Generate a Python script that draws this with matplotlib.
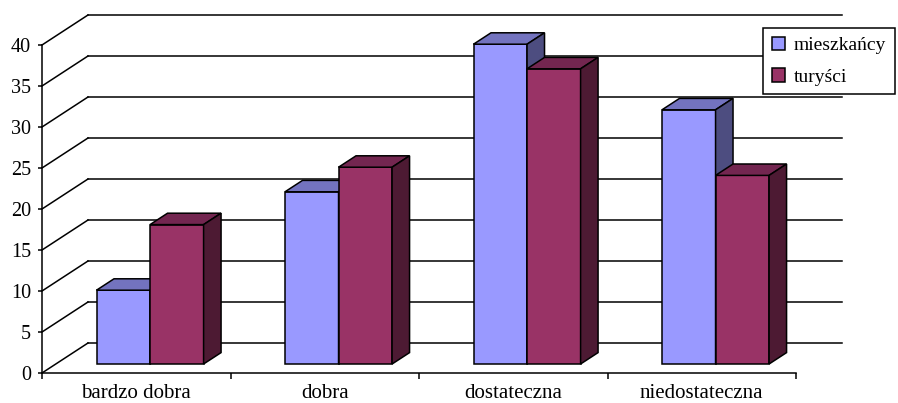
import matplotlib
matplotlib.use("Agg")
import matplotlib.pyplot as plt
from matplotlib.patches import Polygon, Patch

categories = ["bardzo dobra", "dobra", "dostateczna", "niedostateczna"]
series_names = ["mieszkańcy", "turyści"]
mieszkancy = [9, 21, 39, 31]
turysci = [17, 24, 36, 23]
y_ticks = [0, 5, 10, 15, 20, 25, 30, 35, 40]

front_colors = ["#9999FF", "#993366"]
top_colors = ["#7373BF", "#732650"]
side_colors = ["#4D4D80", "#4D1A33"]

plt.rcParams['font.family'] = ['Liberation Serif', 'DejaVu Serif']

W, H = 898, 403
fig = plt.figure(figsize=(W / 100, H / 100), dpi=100)
# front plane of the axes
ax = fig.add_axes([42 / W, (H - 373) / H, (796 - 42) / W, (373 - 45) / H])
ax.set_xlim(0, len(categories))
ax.set_ylim(0, 40)

# depth of 3D box in data units
DX = 46 / 188.5
DY = 30 / 8.2
f0, f1 = 0.30, 0.68
bw = 0.284

# back wall gridlines and left wall diagonals
n = len(categories)
for k in y_ticks:
    ax.plot([DX, n + DX], [k + DY, k + DY], color="black", lw=1.1, zorder=1, clip_on=False)
    ax.plot([0, DX], [k, k + DY], color="black", lw=1.1, zorder=1, clip_on=False)

data = [mieszkancy, turysci]
ddx = (f1 - f0) * DX
ddy = (f1 - f0) * DY
z = 3
for i in range(n):
    c = i + 0.5 + f0 * DX
    for j, vals in enumerate(data):
        v = vals[i]
        x0 = c - bw + j * bw
        yb = f0 * DY
        yt = yb + v
        ax.bar([x0], [v], width=bw, bottom=yb, align="edge", color=front_colors[j],
               edgecolor="black", lw=1.1, zorder=z, clip_on=False)
        top = Polygon([(x0, yt), (x0 + bw, yt), (x0 + bw + ddx, yt + ddy), (x0 + ddx, yt + ddy)],
                      closed=True, facecolor=top_colors[j], edgecolor="black", lw=1.1,
                      zorder=z, clip_on=False)
        side = Polygon([(x0 + bw, yb), (x0 + bw, yt), (x0 + bw + ddx, yt + ddy), (x0 + bw + ddx, yb + ddy)],
                       closed=True, facecolor=side_colors[j], edgecolor="black", lw=1.1,
                       zorder=z, clip_on=False)
        ax.add_patch(top)
        ax.add_patch(side)
        z += 1

for s in ["top", "right"]:
    ax.spines[s].set_visible(False)
for s in ["left", "bottom"]:
    ax.spines[s].set_linewidth(1.1)
    ax.spines[s].set_zorder(50)
ax.set_facecolor("none")

ax.set_yticks(y_ticks)
ax.set_yticklabels([str(t) for t in y_ticks])
ax.tick_params(axis="y", direction="out", length=3, width=1.1, pad=5, labelsize=14.5)
ax.set_xticks(range(n + 1))
ax.set_xticklabels([""] * (n + 1))
ax.set_xticks([i + 0.5 for i in range(n)], minor=True)
ax.set_xticklabels(categories, minor=True)
ax.tick_params(axis="x", which="major", direction="out", length=4, width=1.1)
ax.tick_params(axis="x", which="minor", length=0, pad=8, labelsize=15)

handles = [Patch(facecolor=front_colors[j], edgecolor="black", lw=1.1) for j in range(2)]
leg = fig.legend(handles, series_names, loc="upper left", bbox_to_anchor=(763 / W, 1 - 28 / H),
                 frameon=True, fancybox=False, edgecolor="black", framealpha=1,
                 handlelength=0.7, handleheight=0.7, handletextpad=0.45,
                 labelspacing=0.7, borderpad=0.45, borderaxespad=0, prop={"size": 14})
leg.get_frame().set_linewidth(1.1)

fig.savefig("out.png", dpi=100)
